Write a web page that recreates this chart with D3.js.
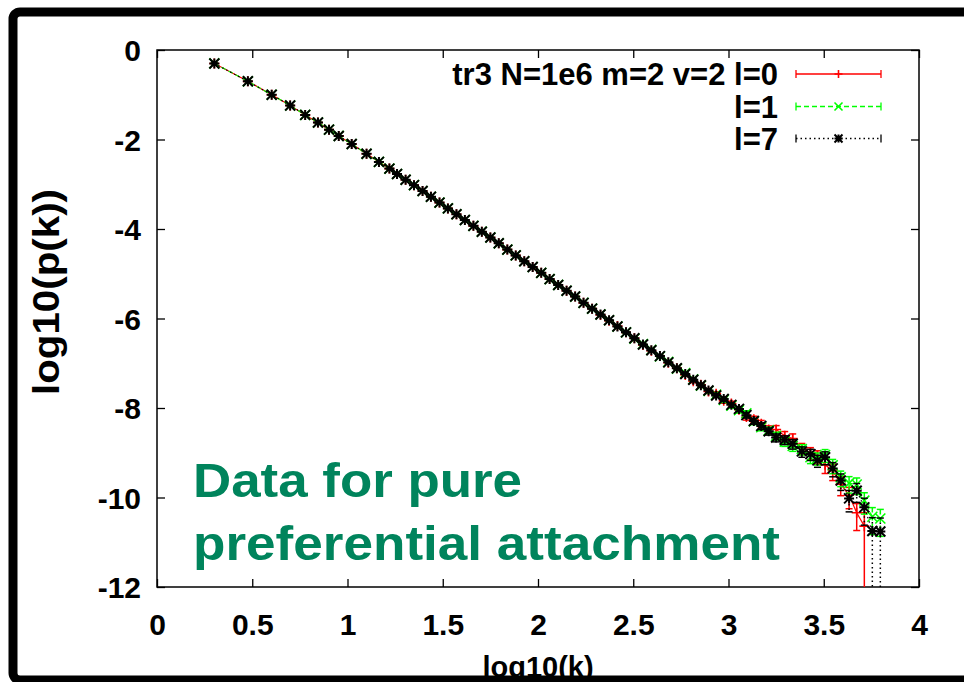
<!DOCTYPE html>
<html><head><meta charset="utf-8">
<script src="https://cdn.jsdelivr.net/npm/d3@7"></script>
<style>body{margin:0;background:#fff;}svg{display:block;}</style>
</head><body>
<svg id="c" width="964" height="682"></svg>
<script>
// ---------- data ----------
const xTicks = [0, 0.5, 1, 1.5, 2, 2.5, 3, 3.5, 4];
const xTickLabels = ["0", "0.5", "1", "1.5", "2", "2.5", "3", "3.5", "4"];
const yTicks = [0, -2, -4, -6, -8, -10, -12];
const yTickLabels = ["0", "-2", "-4", "-6", "-8", "-10", "-12"];
const seriesLabels = ["tr3 N=1e6 m=2 v=2 l=0", "l=1", "l=7"];
const xTitle = "log10(k)";
const yTitle = "log10(p(k))";
const noteLines = ["Data for pure", "preferential attachment"];

const logK = [0.301, 0.477, 0.602, 0.699, 0.778, 0.845, 0.903, 0.954, 1.022, 1.100, 1.165, 1.220,
  1.260, 1.305, 1.349, 1.394, 1.438, 1.483, 1.527, 1.572, 1.616, 1.661, 1.705, 1.750, 1.794, 1.839, 1.883,
  1.928, 1.972, 2.017, 2.061, 2.106, 2.150, 2.195, 2.239, 2.284, 2.328, 2.373, 2.417, 2.462, 2.506, 2.551,
  2.595, 2.640, 2.684, 2.729, 2.773,
  2.815, 2.855, 2.895, 2.935, 2.975, 3.015, 3.055, 3.094, 3.133, 3.172, 3.211, 3.250, 3.295, 3.337, 3.385,
  3.430, 3.467, 3.507, 3.547, 3.589, 3.633, 3.673, 3.713, 3.755, 3.797];

const logP_l7 = [-0.30, -0.70, -1.00, -1.24, -1.45, -1.62, -1.78, -1.92, -2.10, -2.32, -2.50, -2.65,
  -2.77, -2.90, -3.02, -3.15, -3.28, -3.41, -3.54, -3.67, -3.80, -3.93, -4.06, -4.19, -4.32, -4.46, -4.59,
  -4.72, -4.85, -4.98, -5.12, -5.25, -5.38, -5.51, -5.65, -5.78, -5.91, -6.04, -6.18, -6.31, -6.44, -6.58,
  -6.71, -6.84, -6.98, -7.11, -7.24,
  -7.37, -7.49, -7.61, -7.72, -7.80, -7.93, -8.02, -8.16, -8.29, -8.40, -8.52, -8.66, -8.71, -8.80, -8.97,
  -9.03, -9.17, -9.10, -9.35, -9.62, -10.02, -9.85, -10.22, -10.75, -10.76];

const logP_l1 = [-0.30, -0.70, -1.00, -1.24, -1.45, -1.62, -1.78, -1.92, -2.10, -2.32, -2.50, -2.65,
  -2.77, -2.90, -3.02, -3.15, -3.28, -3.41, -3.54, -3.67, -3.80, -3.93, -4.06, -4.19, -4.32, -4.46, -4.59,
  -4.72, -4.85, -4.98, -5.12, -5.25, -5.38, -5.51, -5.65, -5.78, -5.91, -6.04, -6.18, -6.31, -6.45, -6.57,
  -6.70, -6.85, -6.97, -7.12, -7.22,
  -7.36, -7.50, -7.62, -7.70, -7.82, -7.95, -8.05, -8.12, -8.30, -8.43, -8.50, -8.62, -8.75, -8.85, -8.92,
  -9.10, -9.12, -9.05, -9.28, -9.55, -9.68, -9.71, -10.07, -10.43, -10.47];

const logP_l0 = [-0.30, -0.70, -1.00, -1.24, -1.45, -1.62, -1.78, -1.92, -2.10, -2.32, -2.50, -2.65,
  -2.77, -2.90, -3.02, -3.15, -3.28, -3.41, -3.54, -3.67, -3.80, -3.93, -4.06, -4.19, -4.32, -4.46, -4.59,
  -4.72, -4.85, -4.98, -5.12, -5.25, -5.38, -5.51, -5.65, -5.78, -5.92, -6.05, -6.17, -6.31, -6.44, -6.59,
  -6.72, -6.84, -6.99, -7.11, -7.26,
  -7.40, -7.48, -7.63, -7.68, -7.84, -7.90, -8.04, -8.20, -8.25, -8.35, -8.48, -8.48, -8.62, -8.68, -8.90,
  -9.00, -9.08, -9.27, -9.40, -9.70, -9.95, -10.34, -10.64];

// relative errors of p(k)
const relErr_l7 = [0.001, 0.001, 0.001, 0.001, 0.001, 0.002, 0.002, 0.002, 0.002, 0.002, 0.003, 0.003,
  0.003, 0.003, 0.004, 0.004, 0.004, 0.005, 0.005, 0.006, 0.006, 0.007, 0.008, 0.008, 0.009, 0.010, 0.011,
  0.012, 0.013, 0.014, 0.016, 0.017, 0.019, 0.021, 0.023, 0.025, 0.027, 0.030, 0.033, 0.036, 0.040, 0.044,
  0.048, 0.053, 0.058, 0.064, 0.070,
  0.075, 0.082, 0.090, 0.098, 0.107, 0.117, 0.128, 0.140, 0.153, 0.167, 0.18, 0.20, 0.22, 0.24, 0.26,
  0.28, 0.30, 0.32, 0.35, 0.40, 0.50, 0.45, 0.60, 1.00, 1.00];

const relErr_l1 = [0.001, 0.001, 0.001, 0.001, 0.001, 0.002, 0.002, 0.002, 0.002, 0.002, 0.003, 0.003,
  0.003, 0.003, 0.004, 0.004, 0.004, 0.005, 0.005, 0.006, 0.006, 0.007, 0.008, 0.008, 0.009, 0.010, 0.011,
  0.012, 0.013, 0.014, 0.016, 0.017, 0.019, 0.021, 0.023, 0.025, 0.027, 0.030, 0.033, 0.036, 0.040, 0.044,
  0.048, 0.053, 0.058, 0.064, 0.070,
  0.075, 0.082, 0.090, 0.098, 0.107, 0.117, 0.128, 0.140, 0.153, 0.167, 0.18, 0.20, 0.22, 0.24, 0.26,
  0.28, 0.30, 0.32, 0.35, 0.38, 0.40, 0.40, 0.50, 0.60, 0.60];

const relErr_l0 = [0.001, 0.001, 0.001, 0.001, 0.001, 0.002, 0.002, 0.002, 0.002, 0.002, 0.003, 0.003,
  0.003, 0.003, 0.004, 0.004, 0.004, 0.005, 0.005, 0.006, 0.006, 0.007, 0.008, 0.008, 0.009, 0.010, 0.011,
  0.012, 0.013, 0.014, 0.016, 0.017, 0.019, 0.021, 0.023, 0.025, 0.027, 0.030, 0.033, 0.036, 0.040, 0.044,
  0.048, 0.053, 0.058, 0.064, 0.070,
  0.080, 0.088, 0.096, 0.105, 0.115, 0.125, 0.137, 0.150, 0.165, 0.18, 0.20, 0.22, 0.24, 0.26, 0.28,
  0.30, 0.33, 0.36, 0.40, 0.45, 0.50, 0.60, 1.00];

// ---------- layout ----------
const FONT = "'Liberation Sans', Arial, Helvetica, sans-serif";
const L = 157, R = 919, T = 50, B = 587;
const svg = d3.select("#c");
const x = d3.scaleLinear().domain([0, 4]).range([L, R]);
const y = d3.scaleLinear().domain([-12, 0]).range([B, T]);

svg.append("rect").attr("width", 964).attr("height", 682).attr("fill", "#fff");

svg.append("defs").append("clipPath").attr("id", "plotClip")
  .append("rect").attr("x", L).attr("y", T).attr("width", R - L).attr("height", B - T);

// axes (ticks inward, mirrored)
const tickLen = 8;
const fmtX = (d) => xTickLabels[xTicks.indexOf(d)];
const fmtY = (d) => yTickLabels[yTicks.indexOf(d)];

const gxB = svg.append("g").attr("transform", `translate(0,${B})`)
  .call(d3.axisBottom(x).tickValues(xTicks).tickFormat(fmtX).tickSize(-tickLen).tickSizeOuter(0).tickPadding(26));
const gxT = svg.append("g").attr("transform", `translate(0,${T})`)
  .call(d3.axisTop(x).tickValues(xTicks).tickFormat("").tickSize(-tickLen).tickSizeOuter(0));
const gyL = svg.append("g").attr("transform", `translate(${L},0)`)
  .call(d3.axisLeft(y).tickValues(yTicks).tickFormat(fmtY).tickSize(-tickLen).tickSizeOuter(0).tickPadding(16));
const gyR = svg.append("g").attr("transform", `translate(${R},0)`)
  .call(d3.axisRight(y).tickValues(yTicks).tickFormat("").tickSize(-tickLen).tickSizeOuter(0));

[gxB, gxT, gyL, gyR].forEach(g => {
  g.select(".domain").remove();
  g.selectAll(".tick line").attr("stroke", "#000").attr("stroke-width", 1.3);
  g.selectAll(".tick text").attr("fill", "#000").attr("font-family", FONT)
    .attr("font-weight", "bold").attr("font-size", 30);
});
gxB.selectAll(".tick text").attr("dy", "0.72em");
gyL.selectAll(".tick text").attr("dy", "0.36em");

svg.append("rect").attr("x", L).attr("y", T).attr("width", R - L).attr("height", B - T)
  .attr("fill", "none").attr("stroke", "#000").attr("stroke-width", 1.5);

// ---------- series ----------
function markerPath(type, h) {
  const plus = `M${-h},0H${h}M0,${-h}V${h}`;
  const cross = `M${-h},${-h}L${h},${h}M${-h},${h}L${h},${-h}`;
  if (type === "plus") return plus;
  if (type === "cross") return cross;
  return plus + cross;
}

const series = [
  { label: seriesLabels[0], ys: logP_l0, err: relErr_l0, color: "#ff0000", dash: null, marker: "plus", mw: 1.6 },
  { label: seriesLabels[1], ys: logP_l1, err: relErr_l1, color: "#00ff00", dash: "5,3", marker: "cross", mw: 1.6 },
  { label: seriesLabels[2], ys: logP_l7, err: relErr_l7, color: "#000000", dash: "1.5,3", marker: "star", mw: 2 }
];

const plot = svg.append("g").attr("clip-path", "url(#plotClip)");
const capW = 3.5, mh = 5;

series.forEach(s => {
  const pts = s.ys.map((v, i) => {
    const r = s.err[i];
    const hi = v + Math.log10(1 + r);
    const lo = r >= 1 ? -13 : v + Math.log10(1 - r);
    return { k: logK[i], v, hi, lo, clipped: r >= 1 };
  });
  const g = plot.append("g");
  g.append("path").datum(pts)
    .attr("d", d3.line().x(d => x(d.k)).y(d => y(d.v)))
    .attr("fill", "none").attr("stroke", s.color).attr("stroke-width", 1.2)
    .attr("stroke-dasharray", s.dash);
  const eb = g.selectAll(".eb").data(pts).enter().append("g");
  eb.append("line")
    .attr("x1", d => x(d.k)).attr("x2", d => x(d.k))
    .attr("y1", d => y(d.hi)).attr("y2", d => y(d.lo))
    .attr("stroke", s.color).attr("stroke-width", 1.5).attr("stroke-dasharray", s.dash);
  eb.append("line")
    .attr("x1", d => x(d.k) - capW).attr("x2", d => x(d.k) + capW)
    .attr("y1", d => y(d.hi)).attr("y2", d => y(d.hi))
    .attr("stroke", s.color).attr("stroke-width", 1.5);
  eb.filter(d => !d.clipped).append("line")
    .attr("x1", d => x(d.k) - capW).attr("x2", d => x(d.k) + capW)
    .attr("y1", d => y(d.lo)).attr("y2", d => y(d.lo))
    .attr("stroke", s.color).attr("stroke-width", 1.5);
  g.selectAll(".mk").data(pts).enter().append("path")
    .attr("transform", d => `translate(${x(d.k)},${y(d.v)})`)
    .attr("d", markerPath(s.marker, mh))
    .attr("fill", "none").attr("stroke", s.color).attr("stroke-width", s.mw);
});

// ---------- legend ----------
const legRowY = [74, 106.5, 138.5];
const legX1 = 796, legX2 = 881, legTextX = 778;
series.forEach((s, i) => {
  const yy = legRowY[i];
  const g = svg.append("g");
  g.append("text").attr("x", legTextX).attr("y", yy + 11).attr("text-anchor", "end")
    .attr("font-family", FONT).attr("font-weight", "bold").attr("font-size", 31).attr("fill", "#000")
    .text(s.label);
  g.append("line").attr("x1", legX1).attr("x2", legX2).attr("y1", yy).attr("y2", yy)
    .attr("stroke", s.color).attr("stroke-width", 1.3).attr("stroke-dasharray", s.dash);
  [legX1, legX2].forEach(xx => g.append("line").attr("x1", xx).attr("x2", xx)
    .attr("y1", yy - 4).attr("y2", yy + 4).attr("stroke", s.color).attr("stroke-width", 1.3));
  g.append("path").attr("transform", `translate(${(legX1 + legX2) / 2},${yy})`)
    .attr("d", markerPath(s.marker, 4)).attr("fill", "none").attr("stroke", s.color).attr("stroke-width", s.mw);
});

// ---------- titles ----------
svg.append("text").attr("transform", `translate(59,292) rotate(-90)`)
  .attr("text-anchor", "middle").attr("font-family", FONT).attr("font-weight", "bold")
  .attr("font-size", 36).attr("fill", "#000").attr("textLength", 206).attr("lengthAdjust", "spacingAndGlyphs")
  .text(yTitle);

svg.append("text").attr("x", (L + R) / 2).attr("y", 677).attr("text-anchor", "middle")
  .attr("font-family", FONT).attr("font-weight", "bold").attr("font-size", 29).attr("fill", "#000")
  .text(xTitle);

// annotation
const noteY = [497, 560], noteW = [329, 587];
noteLines.forEach((t, i) => {
  svg.append("text").attr("x", 193).attr("y", noteY[i])
    .attr("font-family", FONT).attr("font-weight", "bold").attr("font-size", 48)
    .attr("fill", "#00845c").attr("textLength", noteW[i]).attr("lengthAdjust", "spacingAndGlyphs")
    .text(t);
});

// outer slide frame
svg.append("rect").attr("x", 13).attr("y", 12).attr("width", 1000).attr("height", 668).attr("rx", 7)
  .attr("fill", "none").attr("stroke", "#000").attr("stroke-width", 9);
</script>
</body></html>
